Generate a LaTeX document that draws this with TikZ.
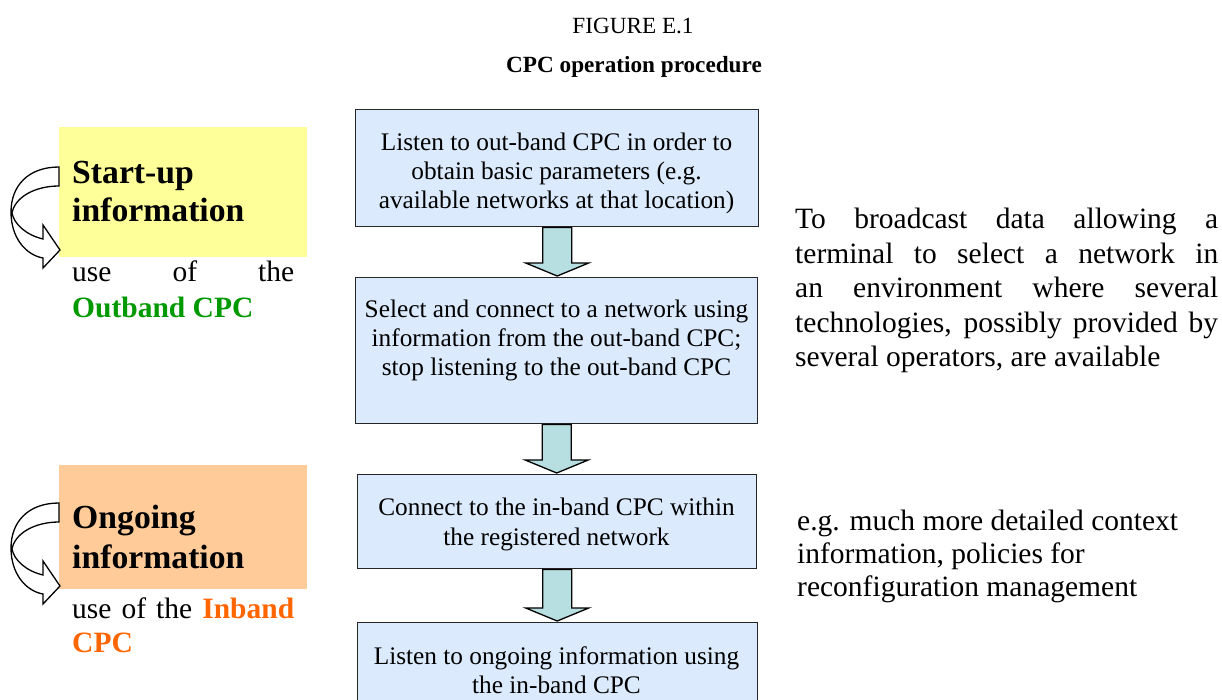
\documentclass[tikz,border=0pt]{standalone}
\usepackage{fontspec}
\setmainfont{Liberation Serif}
\usetikzlibrary{calc}
\definecolor{boxblue}{RGB}{219,234,252}
\definecolor{arrowteal}{RGB}{183,222,224}
\definecolor{labelyellow}{RGB}{255,255,153}
\definecolor{labelorange}{RGB}{255,204,153}
\definecolor{outgreen}{RGB}{0,153,0}
\definecolor{inorange}{RGB}{255,102,0}
\newcommand\blockarr[2]{%
  \path[blockarrow] let \p1=(#1.south), \p2=(#2.north) in
    (\x1-14.5pt,\y1) -- (\x1-14.5pt,\y2+14pt) -- (\x1-31.5pt,\y2+14pt) --
    (\x1,\y2+1pt) -- (\x1+31.5pt,\y2+14pt) -- (\x1+14.5pt,\y2+14pt) --
    (\x1+14.5pt,\y1) -- cycle;}
\tikzset{
  curvarrow/.pic={
    \draw[line width=1.3pt, fill=white, line join=miter]
      (59,167) .. controls (28,167) and (11,186) .. (11,212)
      .. controls (11,238) and (26,255) .. (43,258)
      -- (43,268) -- (60,250) -- (43,225) -- (43,239)
      .. controls (26,235) and (14,224) .. (12,213)
      .. controls (15,197) and (35,186) .. (59,186) -- cycle;
  }
}
\begin{document}
\begin{tikzpicture}[x=1pt,y=-1pt,
  stepbox/.style={draw=black!85,line width=1.4pt,fill=boxblue,inner sep=0pt,anchor=north west},
  blockarrow/.style={draw=black,line width=1.3pt,fill=arrowteal,line join=miter},
  boxtxt/.style={inner sep=0pt,anchor=base,font=\fontsize{25.3}{28}\selectfont},
  sidetxt/.style={inner sep=0pt,anchor=base west,font=\fontsize{29.5}{34}\selectfont},
  labeltxt/.style={inner sep=0pt,anchor=base west,font=\fontsize{33.7}{38}\selectfont\bfseries},
  labelbox/.style={inner sep=0pt,anchor=north west,draw=none},
  titletxt/.style={inner sep=0pt,anchor=base,font=\fontsize{23.2}{27}\selectfont}]
\useasboundingbox (0,0) rectangle (1222,699);
\clip (0,0) rectangle (1222,699);
\fill[white] (0,0) rectangle (1222,699);

% title
\node[titletxt] (title) at (633,33) {FIGURE E.1};
\node[titletxt,font=\fontsize{23.2}{27}\selectfont\bfseries] (subtitle) at (634,72) {CPC operation procedure};

% left label boxes
\node[labelbox,fill=labelyellow,minimum width=248pt,minimum height=130pt] (yel) at (59,127) {};
\node[labelbox,fill=labelorange,minimum width=248pt,minimum height=124pt] (ora) at (59,465) {};
\pic at (0,0) {curvarrow};
\pic at (0,336) {curvarrow};

\node[labeltxt] (su1) at (72,183) {Start-up};
\node[labeltxt] (su2) at (72,221) {information};
\node[sidetxt] (su3) at (72,281) {\makebox[222pt][s]{use of the}};
\node[sidetxt] (su4) at (72,317) {\textcolor{outgreen}{\bfseries Outband CPC}};

\node[labeltxt] (on1) at (72,528) {Ongoing};
\node[labeltxt] (on2) at (72,568) {information};
\node[sidetxt] (on3) at (72,618) {\makebox[222pt][s]{use of the \textcolor{inorange}{\bfseries Inband}}};
\node[sidetxt] (on4) at (72,652) {\textcolor{inorange}{\bfseries CPC}};

% flow boxes
\node[stepbox,minimum width=403pt,minimum height=117pt] (b1) at (355,109) {};
\node[stepbox,minimum width=402pt,minimum height=146pt] (b2) at (355,277) {};
\node[stepbox,minimum width=399pt,minimum height=94pt] (b3) at (357,474) {};
\node[stepbox,minimum width=400pt,minimum height=120pt] (b4) at (357,622) {};

\blockarr{b1}{b2}
\blockarr{b2}{b3}
\blockarr{b3}{b4}

\node[boxtxt] (t1a) at (556.5,150) {Listen to out-band CPC in order to};
\node[boxtxt] (t1b) at (556.5,179) {obtain basic parameters (e.g.};
\node[boxtxt] (t1c) at (556.5,208) {available networks at that location)};

\node[boxtxt] (t2a) at (556.5,317) {Select and connect to a network using};
\node[boxtxt] (t2b) at (556.5,346.5) {information from the out-band CPC;};
\node[boxtxt] (t2c) at (556.5,375.5) {stop listening to the out-band CPC};

\node[boxtxt] (t3a) at (556.5,515) {Connect to the in-band CPC within};
\node[boxtxt] (t3b) at (556.5,545) {the registered network};

\node[boxtxt] (t4a) at (556.5,664) {Listen to ongoing information using};
\node[boxtxt] (t4b) at (556.5,693) {the in-band CPC};

% right texts
\node[sidetxt] (r1) at (795,228) {\makebox[423pt][s]{To broadcast data allowing a}};
\node[sidetxt] (r2) at (795,263) {\makebox[423pt][s]{terminal to select a network in}};
\node[sidetxt] (r3) at (795,297) {\makebox[423pt][s]{an environment where several}};
\node[sidetxt] (r4) at (795,332) {\makebox[423pt][s]{technologies, possibly provided by}};
\node[sidetxt] (r5) at (795,366) {several operators, are available};

\node[sidetxt] (s1) at (797,530) {e.g. much more detailed context};
\node[sidetxt] (s2) at (797,563) {information, policies for};
\node[sidetxt] (s3) at (797,596) {reconfiguration management};
\end{tikzpicture}
\end{document}
